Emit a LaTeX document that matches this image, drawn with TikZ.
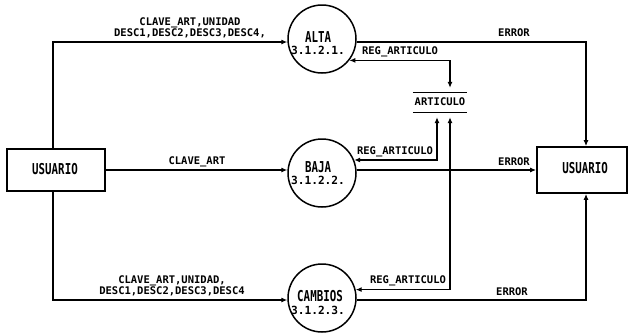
\documentclass[tikz,border=0pt]{standalone}
\usepackage{fontspec}
\usetikzlibrary{arrows.meta}
\newfontfamily\plotfont{DejaVu Sans Mono}
\newfontfamily\tallfont[FakeStretch=0.72]{DejaVu Sans Mono}
\tikzset{
  lbl/.style={font=\plotfont\bfseries\fontsize{10.5}{10}\selectfont, inner sep=0pt, align=center},
  numtxt/.style={font=\plotfont\bfseries\fontsize{11.2}{10}\selectfont, inner sep=0pt},
  bigtxt/.style={font=\tallfont\bfseries\fontsize{15}{15}\selectfont, inner sep=0pt},
  entity/.style={draw, line width=1.8pt, minimum width=98pt, minimum height=42pt, inner sep=0pt},
  proc/.style={draw, circle, line width=1.5pt, minimum size=68pt, inner sep=0pt},
  storebox/.style={minimum width=54pt, minimum height=19pt, inner sep=0pt},
  flow/.style={line width=1.1pt, -{Latex[length=6pt,width=5pt]}},
  flowboth/.style={line width=1.1pt, {Latex[length=6pt,width=5pt]}-{Latex[length=6pt,width=5pt]}}
}
\begin{document}
\begin{tikzpicture}[x=1pt,y=-1pt]
\useasboundingbox (0,0) rectangle (631,335);

% horizontal levels and vertical rails
\coordinate (topY) at (0,42);
\coordinate (midY) at (0,170);
\coordinate (botY) at (0,300);
\coordinate (lx) at (53,0);
\coordinate (rx) at (586,0);
\coordinate (sA) at (437,0);
\coordinate (sB) at (450,0);

% external entities
\node[entity] (uL) at (56,170) {};
\node[bigtxt] (uLt) at (55,169) {USUARIO};
\node[entity, minimum width=90pt, minimum height=46pt] (uR) at (582,170) {};
\node[bigtxt] (uRt) at (585,168) {USUARIO};

% processes
\node[proc] (alta) at (322,39) {};
\node[bigtxt] (altaT) at (318,37) {ALTA};
\node[numtxt] (altaN) at (318,50) {3.1.2.1.};
\node[proc] (baja) at (322,173) {};
\node[bigtxt] (bajaT) at (318,167) {BAJA};
\node[numtxt] (bajaN) at (318,180) {3.1.2.2.};
\node[proc] (cambios) at (322,298) {};
\node[bigtxt] (cambiosT) at (320,296) {CAMBIOS};
\node[numtxt] (cambiosN) at (318,310) {3.1.2.3.};

% data store
\node[storebox] (store) at (440,102.5) {};
\node[lbl] (storeT) at (440,102) {ARTICULO};
\draw[line width=1.3pt] (store.north west) -- (store.north east);
\draw[line width=1.3pt] (store.south west) -- (store.south east);

% flows from the user
\draw[flow] (uL.north -| lx) -- (lx |- topY) -- (alta.west |- topY);
\draw[flow] (uL.east) -- (baja.west |- midY);
\draw[flow] (uL.south -| lx) -- (lx |- botY) -- (cambios.west |- botY);

% error flows to the user
\draw[flow] (alta.east |- topY) -| (uR.north -| rx);
\draw[flow] (baja.east |- midY) -- (uR.west |- midY);
\draw[flow] (cambios.east |- botY) -| (uR.south -| rx);

% record flows with the store
\draw[flowboth, shorten >=5pt] (alta.-38) -| (store.north -| sB);
\draw[flowboth, shorten >=5pt] (baja.22) -| (store.south -| sA);
\draw[flowboth, shorten >=5pt] (cambios.14) -| (store.south -| sB);

% flow labels
\node[lbl] (tA) at (190,28) {CLAVE\_ART,UNIDAD\\DESC1,DESC2,DESC3,DESC4,};
\node[lbl] (tB) at (197,162) {CLAVE\_ART};
\node[lbl] (tC) at (172,286) {CLAVE\_ART,UNIDAD,\\DESC1,DESC2,DESC3,DESC4};
\node[lbl] (eA) at (514,33) {ERROR};
\node[lbl] (rA) at (400,52) {REG\_ARTICULO};
\node[lbl] (rB) at (395,152) {REG\_ARTICULO};
\node[lbl] (eB) at (514,162) {ERROR};
\node[lbl] (rC) at (408,281) {REG\_ARTICULO};
\node[lbl] (eC) at (512,292) {ERROR};
\end{tikzpicture}
\end{document}
